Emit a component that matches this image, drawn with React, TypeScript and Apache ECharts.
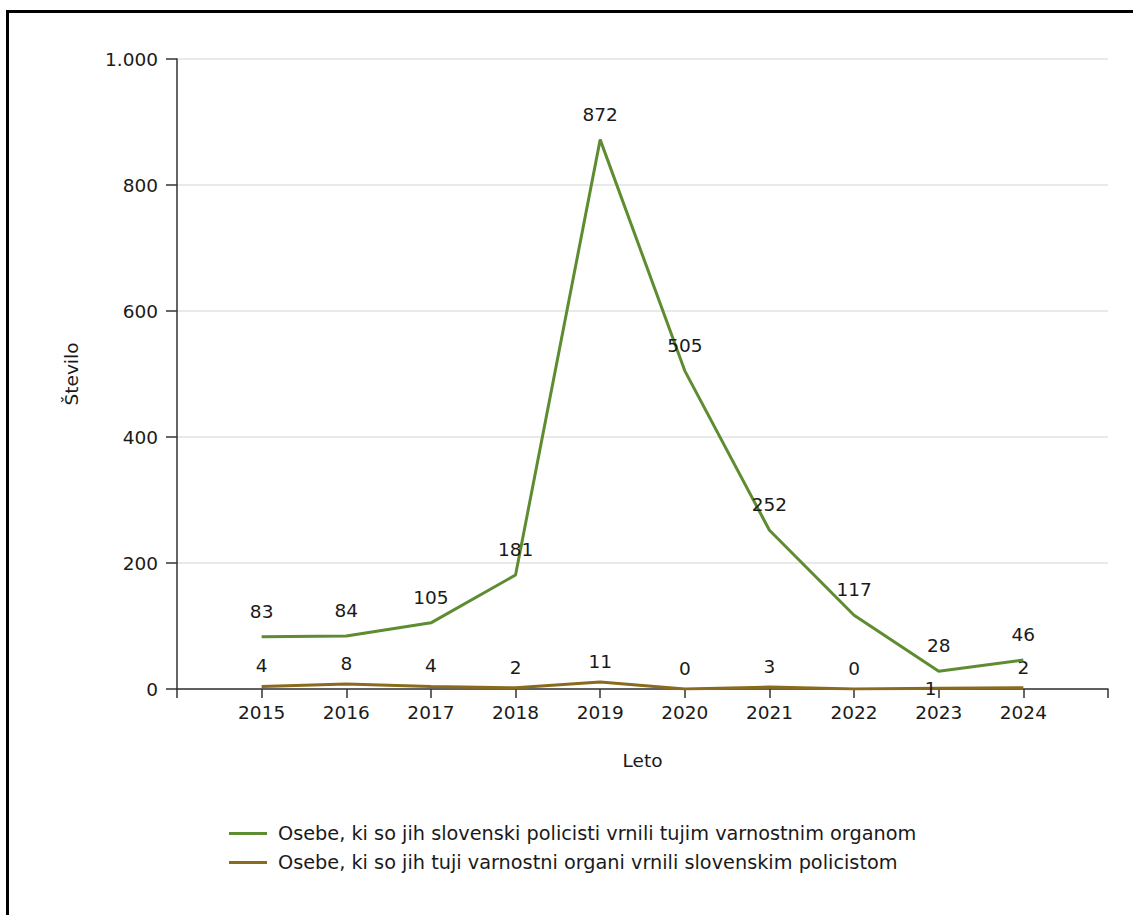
import React, { useEffect, useRef } from "react";
import * as echarts from "echarts";

const years = [2015, 2016, 2017, 2018, 2019, 2020, 2021, 2022, 2023, 2024];
const returnedByOurPolice = [83, 84, 105, 181, 872, 505, 252, 117, 28, 46];
const returnedToOurPolice = [4, 8, 4, 2, 11, 0, 3, 0, 1, 2];
const yTicks = [0, 200, 400, 600, 800, 1000];
const seriesNames = [
  "Osebe, ki so jih slovenski policisti vrnili tujim varnostnim organom",
  "Osebe, ki so jih tuji varnostni organi vrnili slovenskim policistom",
];
const xAxisName = "Leto";
const yAxisName = "Število";

const FONT = "Tahoma, 'DejaVu Sans', sans-serif";
const FS = 18.5;
const TEXT = "#1a1a1a";
const GREEN = "#5e8c31";
const BROWN = "#8a6a1c";

export default function App() {
  const ref = useRef<HTMLDivElement>(null);
  useEffect(() => {
    if (!ref.current) return;
    const chart = echarts.init(ref.current, undefined, { renderer: "svg" });
    const fmt = (v: number) =>
      String(v).replace(/\B(?=(\d{3})+(?!\d))/g, ".");
    chart.setOption({
      animation: false,
      textStyle: { fontFamily: FONT },
      grid: { left: 177, right: 25, top: 59, bottom: 226 },
      legend: {
        orient: "vertical",
        left: 224,
        top: 819,
        itemGap: 10,
        itemWidth: 38,
        itemHeight: 18,
        icon: "path://M0,8 L38,8 L38,11 L0,11 Z",
        textStyle: { fontFamily: FONT, fontSize: 19.3, color: TEXT, padding: [0, 0, 0, 6] },
        data: [
          { name: seriesNames[0], itemStyle: { color: GREEN, opacity: 1 } },
          { name: seriesNames[1], itemStyle: { color: BROWN, opacity: 1 } },
        ],
      },
      xAxis: {
        type: "value",
        min: 2014,
        max: 2025,
        interval: 1,
        name: xAxisName,
        nameLocation: "middle",
        nameGap: 62,
        nameTextStyle: { fontFamily: FONT, fontSize: FS, color: TEXT },
        axisLine: { onZero: false, lineStyle: { color: "#333", width: 1.5 } },
        axisTick: { length: 9, lineStyle: { color: "#333", width: 1.5 } },
        splitLine: { show: false },
        axisLabel: {
          margin: 14,
          fontFamily: FONT,
          fontSize: FS,
          color: TEXT,
          formatter: (v: number) => (years.includes(v) ? String(v) : ""),
        },
      },
      yAxis: {
        type: "value",
        min: yTicks[0],
        max: yTicks[yTicks.length - 1],
        interval: yTicks[1] - yTicks[0],
        name: yAxisName,
        nameLocation: "middle",
        nameGap: 96,
        nameRotate: 90,
        nameTextStyle: { fontFamily: FONT, fontSize: FS, color: TEXT },
        axisLine: { show: true, lineStyle: { color: "#333", width: 1.5 } },
        axisTick: { show: true, length: 11, lineStyle: { color: "#333", width: 1.5 } },
        splitLine: { lineStyle: { color: "#e2e2e2", width: 1.5 } },
        axisLabel: {
          margin: 19,
          fontFamily: FONT,
          fontSize: FS,
          color: TEXT,
          formatter: fmt,
        },
      },
      series: [
        {
          name: seriesNames[0],
          type: "line",
          symbol: "circle",
          symbolSize: 0.01,
          showSymbol: true,
          showAllSymbol: true,
          color: GREEN,
          itemStyle: { color: GREEN },
          lineStyle: { width: 3, color: GREEN },
          data: years.map((y, i) => [y, returnedByOurPolice[i]]),
          label: {
            show: true,
            position: "top",
            distance: 16,
            fontFamily: FONT,
            fontSize: FS,
            color: TEXT,
            formatter: (p: any) => String(p.value[1]),
          },
          z: 3,
        },
        {
          name: seriesNames[1],
          type: "line",
          symbol: "circle",
          symbolSize: 0.01,
          showSymbol: true,
          showAllSymbol: true,
          color: BROWN,
          itemStyle: { color: BROWN },
          lineStyle: { width: 3, color: BROWN },
          data: years.map((y, i) => {
            const item: any = { value: [y, returnedToOurPolice[i]] };
            if (y === 2023) item.label = { position: "inside", offset: [-8, 0] };
            return item;
          }),
          label: {
            show: true,
            position: "top",
            distance: 11,
            fontFamily: FONT,
            fontSize: FS,
            color: TEXT,
            formatter: (p: any) => String(p.value[1]),
          },
          z: 2,
        },
      ],
    });
    return () => chart.dispose();
  }, []);

  return (
    <div
      style={{
        position: "fixed",
        left: 0,
        top: 0,
        width: 1133,
        height: 915,
        overflow: "hidden",
        background: "#fff",
      }}
    >
      <div
        style={{
          position: "absolute",
          left: 6,
          top: 10,
          width: 1300,
          height: 1100,
          borderLeft: "3px solid #000",
          borderTop: "3px solid #000",
        }}
      />
      <div
        ref={ref}
        style={{ position: "absolute", left: 0, top: 0, width: 1133, height: 915 }}
      />
    </div>
  );
}
